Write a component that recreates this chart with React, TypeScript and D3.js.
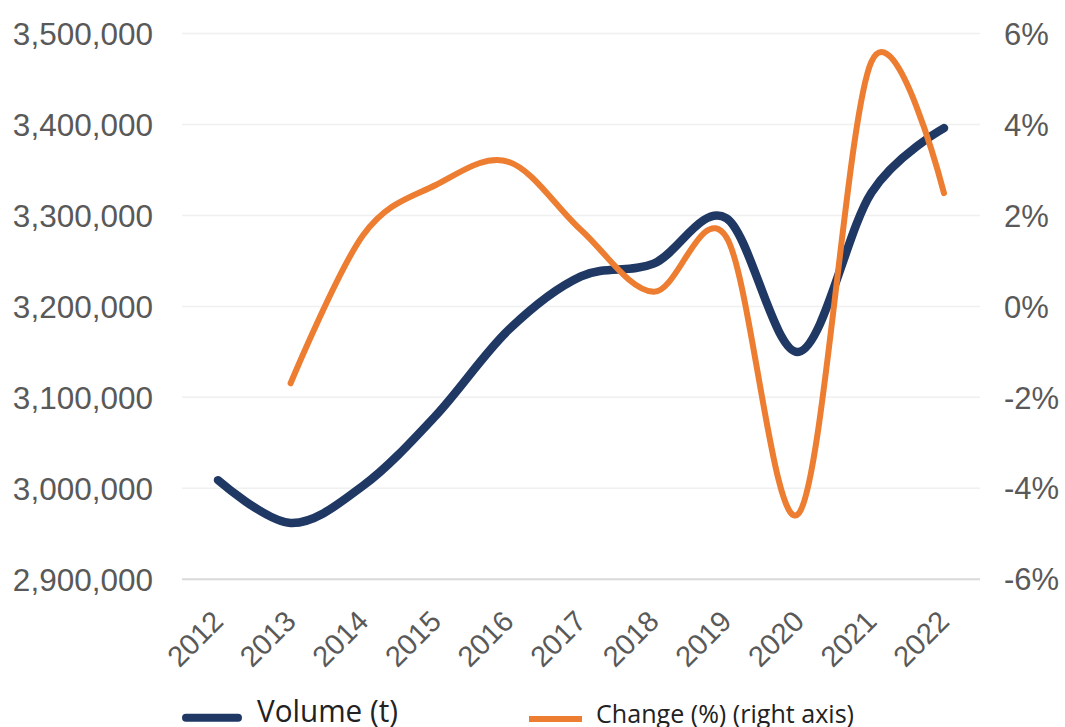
import React from "react";
import * as d3 from "d3";

const years = ["2012","2013","2014","2015","2016","2017","2018","2019","2020","2021","2022"];
const volume = [3009000, 2962000, 3003000, 3080000, 3174000, 3233000, 3247000, 3297000, 3150000, 3325000, 3396000];
const change: (number | null)[] = [null, -1.69, 1.57, 2.67, 3.18, 1.68, 0.32, 1.53, -4.55, 5.38, 2.49];
const leftTicks = [2900000, 3000000, 3100000, 3200000, 3300000, 3400000, 3500000];
const rightTicks = [-6, -4, -2, 0, 2, 4, 6];

const W = 1065, H = 727;
const NAVY = "#1f3864";
const ORANGE = "#ed7d31";

export default function App() {
  const plotL = 182, plotR = 980, top = 33.5, bottom = 579.3;
  const x = d3.scalePoint<string>().domain(years).range([218, 944]);
  const yL = d3.scaleLinear().domain([2900000, 3500000]).range([bottom, top]);
  const yR = d3.scaleLinear().domain([-6, 6]).range([bottom, top]);
  const fmt = d3.format(",");
  const curve = d3.curveCardinal.tension(0);

  const volLine = d3.line<number>()
    .x((_, i) => x(years[i])!)
    .y((d) => yL(d))
    .curve(curve)(volume)!;

  const chgPts = change
    .map((v, i) => ({ v, i }))
    .filter((p) => p.v !== null) as { v: number; i: number }[];
  const chgLine = d3.line<{ v: number; i: number }>()
    .x((p) => x(years[p.i])!)
    .y((p) => yR(p.v))
    .curve(curve)(chgPts)!;

  return (
    <svg width={W} height={H} style={{ position: "absolute", left: 0, top: 0, background: "#fff" }}>
      {leftTicks.map((t, i) => (
        <line key={"g" + t} x1={plotL} x2={plotR} y1={yL(t)} y2={yL(t)}
          stroke={i === 0 ? "#d9d9d9" : "#f0f0f0"} strokeWidth={i === 0 ? 2 : 1.5} />
      ))}
      {leftTicks.map((t) => (
        <text key={"l" + t} x={153} y={yL(t)} dy="0.36em" textAnchor="end"
          fontFamily="Liberation Sans, Arial, sans-serif" fontSize={31.5} fill="#595959">{fmt(t)}</text>
      ))}
      {rightTicks.map((t) => (
        <text key={"r" + t} x={1004} y={yR(t)} dy="0.36em" textAnchor="start"
          fontFamily="Liberation Sans, Arial, sans-serif" fontSize={31} fill="#595959">{t + "%"}</text>
      ))}
      {years.map((yr) => (
        <text key={"x" + yr} transform={`translate(${x(yr)! + 7},623) rotate(-45)`} textAnchor="end"
          fontFamily="Liberation Sans, Arial, sans-serif" fontSize={29} fill="#595959">{yr}</text>
      ))}
      <path d={volLine} fill="none" stroke={NAVY} strokeWidth={8.5} strokeLinecap="round" strokeLinejoin="round" />
      <path d={chgLine} fill="none" stroke={ORANGE} strokeWidth={6} strokeLinecap="round" strokeLinejoin="round" />
      <line x1={186} x2={238} y1={717.7} y2={717.7} stroke={NAVY} strokeWidth={8} strokeLinecap="round" />
      <text x={257} y={722} fontFamily="Open Sans, sans-serif" fontSize={31} fill="#222"
        textLength={141} lengthAdjust="spacingAndGlyphs">Volume (t)</text>
      <line x1={529} x2={582} y1={719} y2={719} stroke={ORANGE} strokeWidth={6} />
      <text x={596} y={723} fontFamily="Open Sans, sans-serif" fontSize={25} fill="#222"
        textLength={258} lengthAdjust="spacingAndGlyphs">Change (%) (right axis)</text>
    </svg>
  );
}
